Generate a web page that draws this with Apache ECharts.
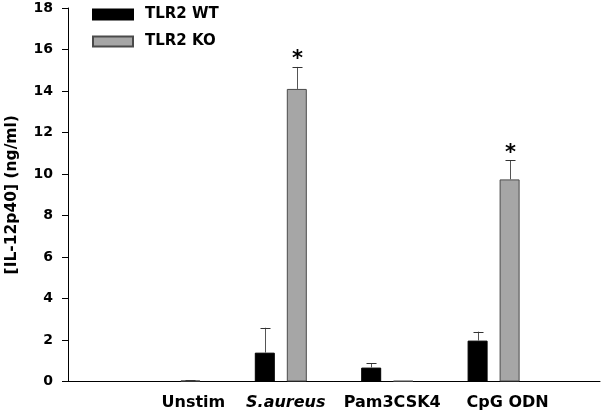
<!DOCTYPE html>
<html>
<head>
<meta charset="utf-8">
<script src="https://cdn.jsdelivr.net/npm/echarts@6/dist/echarts.min.js"></script>
<style>html,body{margin:0;padding:0;background:#fff}#c{width:601px;height:413px}</style>
</head>
<body>
<div id="c"></div>
<script>
// ---- data ----
var categories = ['', 'Unstim', 'S.aureus', 'Pam3CSK4', 'CpG ODN', ''];
var seriesNames = ['TLR2 WT', 'TLR2 KO'];
var wtValues = [null, 0, 1.39, 0.67, 1.97, null];
var wtErrors = [null, 0, 1.20, 0.20, 0.43, null];
var koValues = [null, 0.05, 14.1, 0.03, 9.74, null];
var koErrors = [null, 0.02, 1.06, 0, 0.93, null];
var koSignif = ['', '', '*', '', '*', ''];
var yTicks = [0, 2, 4, 6, 8, 10, 12, 14, 16, 18];
var yTitle = '[IL-12p40] (ng/ml)';

// ---- chart ----
var FONT = 'DejaVu Sans';
var labelShift = {'Unstim': 19, 'S.aureus': 5, 'Pam3CSK4': 5, 'CpG ODN': 14};
var catData = categories.map(function (c) {
  var s = labelShift[c] || 0;
  return { value: c, textStyle: { padding: [0, 0, 0, 2 * s] } };
});

function errSeries(vals, errs, offset, sig) {
  var data = [];
  for (var i = 0; i < categories.length; i++) {
    if (vals[i] == null) continue;
    data.push([i, vals[i], errs[i], sig ? sig[i] : '']);
  }
  return {
    type: 'custom',
    silent: true,
    z: 5,
    data: data,
    renderItem: function (params, api) {
      var i = api.value(0), v = api.value(1), e = api.value(2);
      var s = data[params.dataIndex][3];
      var base = api.coord([i, v]);
      var top = api.coord([i, v + e]);
      var x = Math.round(base[0] + offset) + 0.5;
      var children = [];
      if (e > 0) {
        children.push({ type: 'line', shape: { x1: x, y1: base[1], x2: x, y2: top[1] }, style: { stroke: '#555', lineWidth: 1 } });
        children.push({ type: 'line', shape: { x1: x - 5, y1: Math.round(top[1]) + 0.5, x2: x + 5, y2: Math.round(top[1]) + 0.5 }, style: { stroke: '#333', lineWidth: 1 } });
      }
      if (s) {
        children.push({ type: 'text', x: x, y: top[1] - 7, style: { text: s, fill: '#000', font: 'bold 21px ' + FONT, textAlign: 'center', textVerticalAlign: 'middle' } });
      }
      return { type: 'group', children: children };
    }
  };
}

var chart = echarts.init(document.getElementById('c'), null, { renderer: 'canvas' });
chart.setOption({
  animation: false,
  backgroundColor: '#fff',
  textStyle: { fontFamily: FONT },
  grid: { left: 68, right: 1, top: 8, bottom: 31.5, containLabel: false, outerBoundsMode: 'none' },
  legend: {
    orient: 'vertical',
    left: 92, top: 7, padding: 0,
    itemWidth: 40, itemHeight: 10, itemGap: 12,
    icon: 'rect',
    data: seriesNames,
    textStyle: { fontFamily: FONT, fontWeight: 'bold', fontSize: 15, color: '#000', padding: [0, 0, 0, 7] }
  },
  xAxis: {
    type: 'category',
    data: catData,
    boundaryGap: false,
    axisLine: { lineStyle: { color: '#000', width: 1 } },
    axisTick: { show: false },
    axisLabel: {
      interval: 0, margin: 13, color: '#000', fontFamily: FONT, fontWeight: 'bold', fontSize: 16,
      formatter: function (v) { return v === 'S.aureus' ? '{i|' + v + '}' : v; },
      rich: { i: { fontStyle: 'italic', fontFamily: FONT, fontWeight: 'bold', fontSize: 16, color: '#000' } }
    },
    splitLine: { show: false }
  },
  yAxis: {
    type: 'value',
    min: yTicks[0], max: yTicks[yTicks.length - 1], interval: yTicks[1] - yTicks[0],
    name: yTitle,
    nameLocation: 'middle',
    nameGap: 48,
    nameTextStyle: { fontFamily: FONT, fontWeight: 'bold', fontSize: 15.5, color: '#000' },
    axisLine: { show: true, lineStyle: { color: '#000', width: 1 } },
    axisTick: { show: true, length: 6, lineStyle: { color: '#000' } },
    axisLabel: { margin: 15, color: '#000', fontFamily: FONT, fontWeight: 'bold', fontSize: 14 },
    splitLine: { show: false }
  },
  series: [
    { name: seriesNames[0], type: 'bar', data: wtValues, barWidth: 20, barGap: '60%',
      itemStyle: { color: '#000', borderColor: '#000', borderWidth: 1 } },
    { name: seriesNames[1], type: 'bar', data: koValues, barWidth: 20,
      itemStyle: { color: '#a6a6a6', borderColor: '#4a4a4a', borderWidth: 1 } },
    errSeries(wtValues, wtErrors, -16, null),
    errSeries(koValues, koErrors, 16, koSignif)
  ]
});
</script>
</body>
</html>
